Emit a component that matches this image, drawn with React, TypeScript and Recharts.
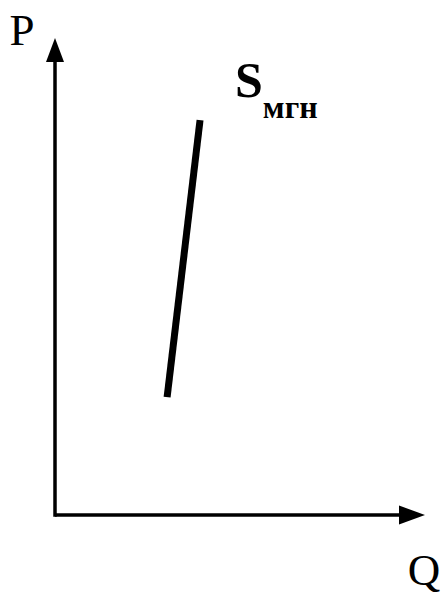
import { LineChart, Line, XAxis, YAxis, ReferenceDot, ReferenceLine, LabelList } from "recharts";

// quantity / price for the instantaneous supply curve (axis units 0-100)
const quantity = [30.3, 39.2];
const price = [24.7, 82.8];

const axisLabels = { p: "P", q: "Q" };
const curveName = "S";
const curveSub = "мгн";

const data = quantity.map((q, i) => ({ q, p: price[i] }));

const font = "'Liberation Serif', 'Times New Roman', serif";

const ArrowUp = (props: any) => {
  const { cx, cy } = props;
  return (
    <g>
      <polygon points={`${cx},${cy} ${cx - 9},${cy + 24} ${cx + 9},${cy + 24}`} fill="#000" />
      <text x={cx - 33} y={cy + 7} textAnchor="middle" style={{ fontFamily: font }} fontSize={45} fill="#000">
        {axisLabels.p}
      </text>
    </g>
  );
};

const ArrowRight = (props: any) => {
  const { cx, cy } = props;
  return (
    <g>
      <polygon points={`${cx},${cy} ${cx - 26},${cy - 9.5} ${cx - 26},${cy + 9.5}`} fill="#000" />
      <text x={cx - 1} y={cy + 70} textAnchor="middle" style={{ fontFamily: font }} fontSize={45} fill="#000">
        {axisLabels.q}
      </text>
    </g>
  );
};

const CurveLabel = (props: any) => {
  const { x, y, index } = props;
  if (index !== data.length - 1) return null;
  return (
    <text x={x + 35} y={y - 23} style={{ fontFamily: font }} fontWeight="bold" fontSize={50} fill="#000">
      {curveName}
      <tspan dy={21} fontSize={32}>
        {curveSub}
      </tspan>
    </text>
  );
};

export default function App() {
  return (
    <div style={{ position: "absolute", left: 0, top: 0, background: "#fff" }}>
      <LineChart width={445} height={599} data={data} margin={{ top: 38, right: 20, bottom: 84, left: 55 }}>
        <XAxis type="number" dataKey="q" domain={[0, 100]} hide />
        <YAxis type="number" domain={[0, 100]} hide />
        <ReferenceLine segment={[{ x: 0, y: 0 }, { x: 97, y: 0 }]} stroke="#000" strokeWidth={3.5} ifOverflow="visible" />
        <ReferenceLine segment={[{ x: 0, y: -0.35 }, { x: 0, y: 97 }]} stroke="#000" strokeWidth={3.5} ifOverflow="visible" />
        <ReferenceDot x={0} y={100} shape={ArrowUp} />
        <ReferenceDot x={100} y={0} shape={ArrowRight} />
        <Line
          type="linear"
          dataKey="p"
          stroke="#000"
          strokeWidth={7}
          strokeLinecap="butt"
          dot={false}
          activeDot={false}
          isAnimationActive={false}
        >
          <LabelList dataKey="p" content={CurveLabel} />
        </Line>
      </LineChart>
    </div>
  );
}
